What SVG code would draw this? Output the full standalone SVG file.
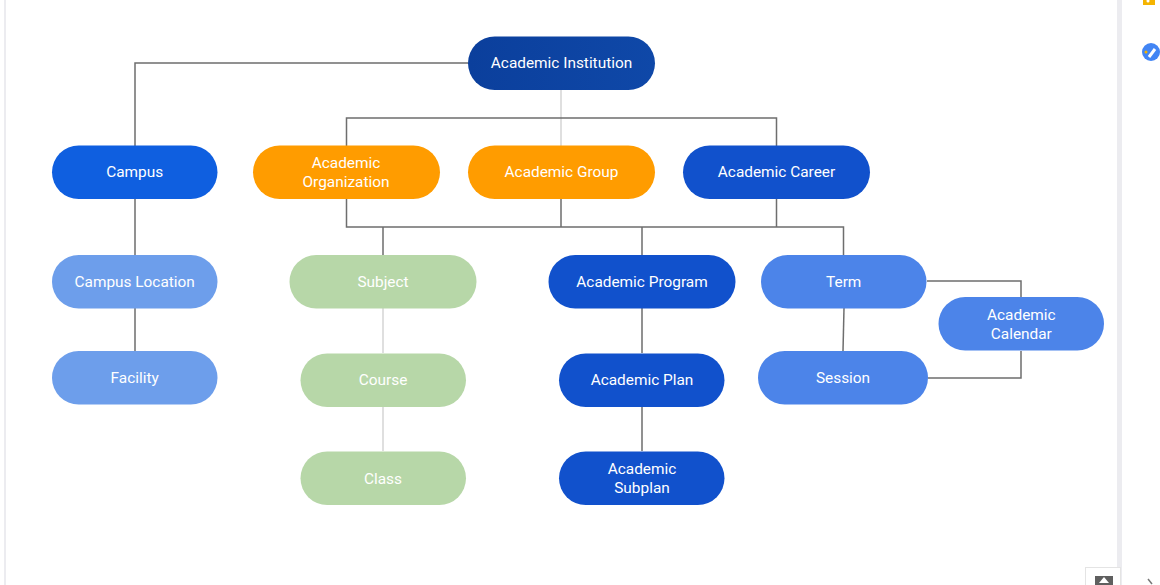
<svg xmlns="http://www.w3.org/2000/svg" width="1160" height="585" viewBox="0 0 1160 585">
<defs>
<linearGradient id="g1" x1="0" x2="1" y1="0" y2="0"><stop offset="0" stop-color="#0b3f9c"/><stop offset="1" stop-color="#0f48a8"/></linearGradient>
</defs>
<style>
text{font-family:Roboto,"Liberation Sans",sans-serif;font-size:15.4px;fill:#fff;text-anchor:middle}
.c{fill:none;stroke:#6e6e6e;stroke-width:1.5}
.l{fill:none;stroke:#d5d5d5;stroke-width:1.5}
.blue{fill:#1151cc}.bright{fill:#0f5fe0}.orange{fill:#ff9c00}.green{fill:#b7d7a8}.mid{fill:#4c84e9}.light{fill:#6d9eeb}
</style>
<rect width="1160" height="585" fill="#fff"/>
<g id="chrome">
<rect x="4" y="0" width="2" height="585" fill="#ececf0"/>
<rect x="1117" y="0" width="5" height="585" fill="#ececf0"/>
<rect x="1143" y="0" width="12" height="5" fill="#f5b400"/>
<circle cx="1148" cy="1" r="1.500" fill="#fff"/>
<circle cx="1151" cy="52" r="9" fill="#4285f4"/>
<path d="M1149 57l6-8" stroke="#fff" stroke-width="3" fill="none"/>
<circle cx="1146" cy="52" r="1.500" fill="#f5b400"/>
<rect x="1085.500" y="567.500" width="35" height="20" fill="#fff" stroke="#e4e4e4"/>
<rect x="1095" y="576" width="18" height="9" fill="#5f5f5f"/>
<path d="M1104 577l5 6h-10z" fill="#fff"/>
<path d="M1148 579l4 5" stroke="#777" stroke-width="1.500" fill="none"/>
</g>
<g id="connectors">
<path class="l" d="M561 90V146"/>
<path class="l" d="M383 308V353M383 407V451"/>
<path class="c" d="M468 63H135V146"/>
<path class="c" d="M346.500 146V118H776.500V146"/>
<path class="c" d="M346.500 199V227H843.500V255"/>
<path class="c" d="M561 199V227M776.500 199V227M383 227V255M642 227V255"/>
<path class="c" d="M135 199V255M135 308V351"/>
<path class="c" d="M642 308V353M642 407V451"/>
<path class="c" d="M844 308L843 351"/>
<path class="c" d="M927 281H1021V297M1021 351V378H928"/>
</g>
<g id="n1"><rect x="468" y="36.500" width="187" height="53.500" rx="26.700" fill="url(#g1)"/><text x="561.500" y="68">Academic Institution</text></g>
<g id="n2"><rect class="bright" x="52" y="145.500" width="165.500" height="53.500" rx="26.700"/><text x="134.700" y="177">Campus</text></g>
<g id="n3"><rect class="orange" x="253" y="145.500" width="187" height="53.500" rx="26.700"/><text x="346" y="168">Academic</text><text x="346" y="187">Organization</text></g>
<g id="n4"><rect class="orange" x="468" y="145.500" width="187" height="53.500" rx="26.700"/><text x="561.500" y="177">Academic Group</text></g>
<g id="n5"><rect class="blue" x="683" y="145.500" width="187" height="53.500" rx="26.700"/><text x="776.500" y="177">Academic Career</text></g>
<g id="n6"><rect class="light" x="52" y="255" width="165.500" height="53.500" rx="26.700"/><text x="134.700" y="287">Campus Location</text></g>
<g id="n7"><rect class="light" x="52" y="351" width="165.500" height="53.500" rx="26.700"/><text x="134.700" y="383">Facility</text></g>
<g id="n8"><rect class="green" x="289.500" y="255" width="187" height="53.500" rx="26.700"/><text x="383" y="287">Subject</text></g>
<g id="n9"><rect class="green" x="300.500" y="353.500" width="165.500" height="53.500" rx="26.700"/><text x="383" y="385">Course</text></g>
<g id="n10"><rect class="green" x="300.500" y="451.500" width="165.500" height="53.500" rx="26.700"/><text x="383" y="484">Class</text></g>
<g id="n11"><rect class="blue" x="548.500" y="255" width="187" height="53.500" rx="26.700"/><text x="642" y="287">Academic Program</text></g>
<g id="n12"><rect class="blue" x="559" y="353.500" width="165.500" height="53.500" rx="26.700"/><text x="642" y="385">Academic Plan</text></g>
<g id="n13"><rect class="blue" x="559" y="451.500" width="165.500" height="53.500" rx="26.700"/><text x="642" y="474">Academic</text><text x="642" y="493">Subplan</text></g>
<g id="n14"><rect class="mid" x="761" y="255" width="165.500" height="53.500" rx="26.700"/><text x="843.700" y="287">Term</text></g>
<g id="n15"><rect class="mid" x="758" y="351" width="170" height="53.500" rx="26.700"/><text x="843" y="383">Session</text></g>
<g id="n16"><rect class="mid" x="938.500" y="297" width="165.500" height="53.500" rx="26.700"/><text x="1021.300" y="320">Academic</text><text x="1021.300" y="339">Calendar</text></g>
</svg>
